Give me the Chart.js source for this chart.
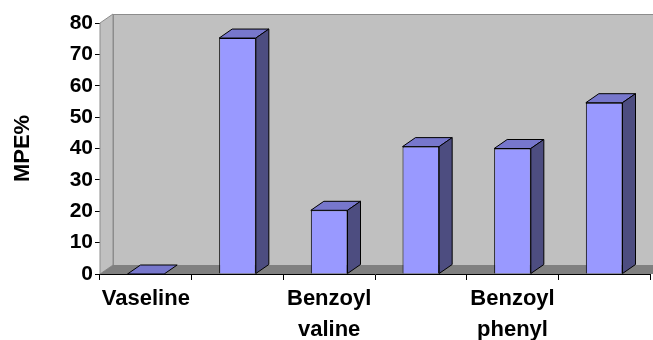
<!DOCTYPE html>
<html>
<head>
<meta charset="utf-8">
<script src="https://cdn.jsdelivr.net/npm/chart.js@4/dist/chart.umd.min.js"></script>
<style>
  html, body { margin: 0; padding: 0; background: #fff; overflow: hidden; }
  #wrap { width: 653px; height: 340px; }
</style>
</head>
<body>
<div id="wrap"><canvas id="grafico"></canvas></div>
<script>
// dados
const categorias = ['Vaseline', '', ['Benzoyl', 'valine'], '', ['Benzoyl', 'phenyl'], '']
const valoresMPE = [0, 75.2, 20.3, 40.6, 40, 54.6]
const ticksY = [0, 10, 20, 30, 40, 50, 60, 70, 80]

const fonte = 'Arial, "Liberation Sans", sans-serif'
const profX = 13   // profundidade 3D
const profY = -9

// parede e chão estilo Excel
const paredes = {
    id: 'paredes',
    beforeDatasetsDraw(chart) {
        const { ctx, chartArea: a } = chart
        ctx.save()
        ctx.strokeStyle = '#8c8c8c'
        ctx.lineWidth = 1
        // parede do fundo
        ctx.fillStyle = '#c0c0c0'
        ctx.fillRect(a.left + profX, a.top + profY, a.right - a.left + 20, a.bottom - a.top)
        ctx.strokeRect(a.left + profX + 0.5, a.top + profY + 0.5, a.right - a.left + 20, a.bottom - a.top)
        // parede lateral
        ctx.beginPath()
        ctx.moveTo(a.left, a.top)
        ctx.lineTo(a.left + profX, a.top + profY)
        ctx.lineTo(a.left + profX, a.bottom + profY)
        ctx.lineTo(a.left, a.bottom)
        ctx.closePath()
        ctx.fillStyle = '#c0c0c0'
        ctx.fill()
        ctx.stroke()
        // chão
        ctx.beginPath()
        ctx.moveTo(a.left, a.bottom)
        ctx.lineTo(a.left + profX, a.bottom + profY)
        ctx.lineTo(a.right + profX + 20, a.bottom + profY)
        ctx.lineTo(a.right + 20, a.bottom)
        ctx.closePath()
        ctx.fillStyle = '#808080'
        ctx.fill()
        ctx.restore()
    }
}

// topo e lateral das barras
const barras3d = {
    id: 'barras3d',
    afterDatasetsDraw(chart) {
        const { ctx } = chart
        const meta = chart.getDatasetMeta(0)
        ctx.save()
        ctx.strokeStyle = '#000'
        ctx.lineWidth = 1
        ctx.lineJoin = 'round'
        meta.data.forEach(bar => {
            const p = bar.getProps(['x', 'y', 'base', 'width'], true)
            const l = p.x - p.width / 2
            const r = p.x + p.width / 2
            // topo
            ctx.beginPath()
            ctx.moveTo(l, p.y)
            ctx.lineTo(l + profX, p.y + profY)
            ctx.lineTo(r + profX, p.y + profY)
            ctx.lineTo(r, p.y)
            ctx.closePath()
            ctx.fillStyle = '#7777cc'
            ctx.fill()
            ctx.stroke()
            // lateral
            if (p.base - p.y > 0.5) {
                ctx.beginPath()
                ctx.moveTo(r, p.y)
                ctx.lineTo(r + profX, p.y + profY)
                ctx.lineTo(r + profX, p.base + profY)
                ctx.lineTo(r, p.base)
                ctx.closePath()
                ctx.fillStyle = '#4d4d80'
                ctx.fill()
                ctx.stroke()
            }
        })
        ctx.restore()
    }
}

const ctx = document.getElementById('grafico').getContext('2d')
const grafico = new Chart(ctx, {
    type: 'bar',
    data: {
        labels: categorias,
        datasets: [{
            label: 'MPE%',
            data: valoresMPE,
            backgroundColor: '#9999ff',
            borderColor: '#000',
            borderWidth: 1,
            categoryPercentage: 1,
            barPercentage: 0.4
        }]
    },
    options: {
        responsive: true,
        maintainAspectRatio: false,
        animation: false,
        layout: { padding: { top: 23, right: 3, left: 0, bottom: 0 } },
        plugins: {
            legend: { display: false },
            tooltip: { enabled: false }
        },
        scales: {
            y: {
                min: 0,
                max: 80,
                afterBuildTicks: s => { s.ticks = ticksY.map(v => ({ value: v })) },
                afterFit: s => { s.width = 100 },
                ticks: {
                    color: '#000',
                    padding: 2,
                    font: { family: fonte, size: 21, weight: 'bold' }
                },
                border: { display: true, color: '#000', width: 1 },
                grid: { drawOnChartArea: false, tickLength: 5, color: '#000' },
                title: {
                    display: true,
                    text: 'MPE%',
                    color: '#000',
                    padding: { top: 10, bottom: 0 },
                    font: { family: fonte, size: 22, weight: 'bold' }
                }
            },
            x: {
                afterFit: s => { s.height = 66 },
                ticks: {
                    color: '#000',
                    maxRotation: 0,
                    autoSkip: false,
                    padding: 4,
                    font: { family: fonte, size: 22, weight: 'bold', lineHeight: 1.38 }
                },
                border: { display: true, color: '#000', width: 1 },
                grid: { offset: true, drawOnChartArea: false, tickLength: 6, color: '#000' }
            }
        }
    },
    plugins: [paredes, barras3d]
})
</script>
</body>
</html>
